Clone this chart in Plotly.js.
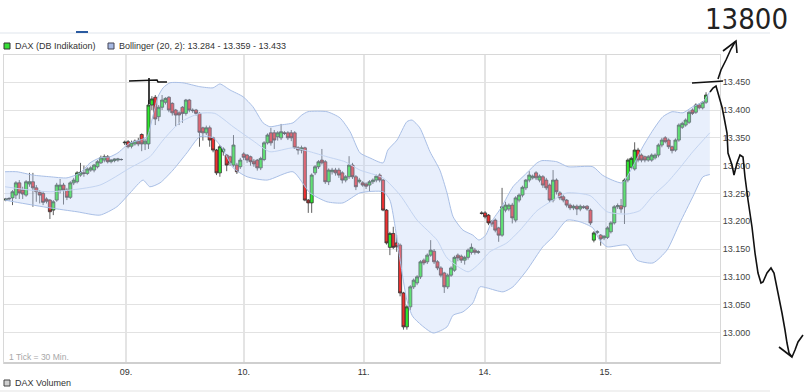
<!DOCTYPE html>
<html><head><meta charset="utf-8">
<script src="https://cdn.plot.ly/plotly-3.0.1.min.js"></script>
<style>html,body{margin:0;padding:0;background:#fff;}#chart{width:804px;height:392px;}</style>
</head><body><div id="chart"></div>
<script>
// ---- DAX 30-min candles, 08. - 15. ----
const open = [
 13238,13240,13242,13247,13269,13256,13247,13267,13271,13260,13252,13250,13240,13238,13220,13238,13256,13265,13256,13243,13269,13271,13283,13287,13286,13292,13292,13298,13305,13310,13316,13307,13309,13310,13311,
 13341,13343,13335,13339,13344,13356,13339,13339,13409,13423,13388,13405,13414,13423,13412,13400,13395,13405,13394,13418,13400,13400,13394,13368,13359,13368,13350,13328,13287,13325,13319,13316,13301,13301,13298,
 13321,13319,13316,13308,13310,13296,13311,13341,13359,13359,13352,13350,13359,13359,13359,13359,13332,13328,13332,13238,13233,13287,13298,13310,13307,13271,13289,13292,13292,13287,13274,13280,13301,13280,13271,
 13269,13267,13265,13271,13274,13283,13274,13220,13153,13178,13161,13157,13071,13010,13046,13082,13089,13100,13130,13127,13139,13146,13127,13116,13107,13082,13103,13112,13139,13137,13130,13135,13144,13148,13144,
 13215,13215,13211,13199,13202,13188,13175,13220,13222,13229,13202,13238,13247,13260,13274,13278,13287,13274,13280,13274,13265,13238,13274,13251,13244,13238,13229,13224,13227,13222,13226,13227,13220,
 13166,13180,13175,13170,13171,13181,13197,13226,13228,13226,13274,13297,13294,13328,13319,13316,13310,13310,13314,13319,13337,13350,13346,13334,13328,13346,13369,13373,13378,13400,13396,13409,13404,13414
];
const high = [
 13242,13243,13256,13272,13274,13262,13274,13287,13287,13265,13256,13254,13243,13240,13238,13269,13276,13269,13260,13272,13278,13290,13305,13300,13297,13299,13303,13310,13318,13320,13319,13312,13313,13314,13313,
 13345,13346,13345,13347,13350,13358,13348,13418,13425,13427,13409,13427,13423,13425,13414,13402,13398,13407,13420,13420,13403,13402,13396,13370,13372,13372,13352,13330,13337,13333,13321,13318,13355,13305,13314,
 13324,13321,13318,13312,13312,13316,13344,13358,13368,13364,13362,13375,13362,13362,13364,13362,13335,13336,13334,13240,13286,13301,13310,13330,13310,13295,13296,13296,13296,13290,13283,13317,13305,13283,13278,
 13272,13270,13274,13277,13284,13286,13276,13222,13181,13190,13175,13160,13073,13049,13085,13097,13103,13130,13133,13142,13166,13150,13130,13119,13109,13106,13119,13138,13142,13140,13138,13151,13160,13152,13148,
 13218,13218,13213,13202,13205,13190,13260,13235,13232,13233,13245,13250,13264,13276,13290,13284,13290,13284,13283,13278,13268,13292,13277,13254,13247,13240,13232,13230,13230,13230,13229,13229,13223,
 13182,13184,13177,13175,13191,13200,13229,13232,13240,13277,13313,13316,13342,13332,13322,13318,13319,13322,13322,13340,13350,13353,13349,13336,13349,13376,13379,13385,13399,13403,13412,13412,13416,13432
];
const low = [
 13236,13237,13229,13240,13240,13240,13244,13262,13226,13235,13232,13229,13232,13204,13211,13235,13250,13230,13238,13240,13265,13268,13280,13280,13283,13289,13288,13295,13303,13306,13304,13304,13306,13307,13309,
 13337,13331,13331,13336,13335,13326,13328,13330,13400,13373,13380,13400,13410,13396,13390,13370,13373,13377,13390,13396,13395,13390,13334,13345,13355,13334,13324,13283,13280,13318,13290,13300,13298,13285,13294,
 13310,13305,13300,13298,13291,13292,13308,13338,13336,13330,13345,13346,13355,13346,13344,13330,13320,13322,13236,13215,13215,13283,13294,13302,13267,13265,13284,13282,13278,13268,13270,13276,13276,13256,13268,
 13262,13258,13253,13267,13270,13270,13218,13158,13139,13150,13145,13065,13005,13005,13040,13078,13085,13096,13121,13123,13136,13123,13112,13099,13071,13078,13100,13109,13128,13125,13122,13131,13140,13140,13141,
 13212,13205,13193,13190,13180,13163,13172,13216,13218,13196,13198,13234,13243,13256,13270,13275,13274,13270,13260,13256,13234,13234,13248,13238,13234,13225,13220,13220,13211,13218,13222,13219,13193,
 13162,13177,13156,13166,13168,13178,13194,13222,13215,13195,13270,13294,13291,13306,13306,13306,13307,13307,13311,13315,13333,13340,13330,13322,13325,13343,13366,13370,13375,13391,13393,13401,13401,13411
];
const close = [
 13240,13241,13253,13269,13251,13249,13271,13271,13260,13253,13247,13234,13236,13217,13235,13265,13265,13256,13243,13269,13274,13287,13288,13286,13294,13296,13301,13307,13314,13316,13307,13310,13312,13312,13311,
 13342,13334,13341,13344,13339,13339,13344,13409,13420,13384,13405,13418,13421,13400,13395,13391,13391,13394,13418,13400,13399,13394,13360,13359,13368,13346,13328,13287,13334,13330,13301,13305,13337,13289,13310,
 13315,13310,13307,13303,13296,13313,13341,13355,13341,13346,13359,13361,13358,13350,13350,13332,13328,13332,13238,13233,13283,13298,13307,13305,13271,13292,13292,13287,13283,13274,13280,13301,13280,13262,13274,
 13265,13263,13271,13274,13281,13274,13220,13161,13178,13153,13154,13071,13010,13046,13082,13094,13100,13127,13125,13139,13148,13127,13116,13103,13082,13103,13116,13135,13134,13130,13135,13148,13153,13144,13145,
 13214,13208,13197,13195,13184,13175,13226,13229,13229,13206,13242,13247,13261,13274,13283,13281,13278,13281,13265,13260,13238,13274,13253,13242,13238,13229,13224,13227,13222,13227,13225,13222,13197,
 13179,13181,13168,13173,13188,13197,13226,13228,13222,13274,13310,13313,13328,13310,13310,13310,13316,13319,13319,13337,13346,13343,13334,13327,13346,13373,13376,13382,13396,13394,13409,13404,13414,13427
];

// ---- Bollinger (20, 2) at sample points (candle index, value) ----
const upperIdx = [-0.2,3.3,8.0,13.0,18.0,21.9,24.8,27.7,30.7,33.0,35.1,36.6,39.5,41.6,43.0,44.8,46.3,48.3,52.1,57.1,61.0,63.0,66.0,69.8,72.7,75.7,77.7,80.7,84.5,87.1,88.9,94.5,98.3,101.3,104.2,107.1,111.0,112.4,115.1,118.0,119.5,121.8,124.8,127.7,129.8,131.6,134.5,137.4,139.2,141.2,142.9,145.9,149.2,153.3,156.3,157.7,162.1,165.4,172.7,175.5,178.4,181.4,184.4,187.4,190.4,193.3,196.0,199.2,202.1,205.1,207.1];
const upperVal = [13289,13289,13283,13280,13278,13287,13305,13314,13316,13323,13334,13341,13346,13352,13382,13424,13440,13449,13449,13442,13440,13447,13436,13424,13406,13377,13370,13373,13377,13391,13397,13397,13386,13361,13323,13314,13305,13328,13346,13379,13382,13368,13325,13292,13251,13208,13184,13175,13166,13175,13199,13226,13262,13287,13305,13309,13307,13298,13298,13283,13274,13269,13298,13334,13364,13388,13397,13395,13406,13415,13433];
const midIdx = [-0.2,13.0,27.7,36.6,42.4,46.3,51.3,57.1,61.5,66.9,72.7,77.7,84.5,89.5,94.5,99.8,104.2,111.0,116.0,121.0,126.9,129.8,136.0,139.5,142.4,147.4,151.3,156.3,162.1,165.1,171.9,176.9,182.7,186.5,190.4,194.5,198.3,202.1,207.1];
const midVal = [13262,13253,13265,13296,13316,13346,13378,13394,13394,13370,13345,13325,13332,13325,13316,13307,13292,13278,13247,13202,13166,13134,13109,13125,13145,13161,13184,13219,13242,13251,13246,13217,13213,13219,13246,13269,13296,13325,13359];
const lowerIdx = [-0.2,4.2,13.0,21.0,27.7,32.7,36.6,40.4,42.4,45.4,49.2,53.3,57.1,61.0,63.6,66.9,71.0,76.9,84.5,89.5,94.5,99.2,104.2,111.0,113.0,116.0,118.0,119.8,125.7,129.8,131.6,134.5,137.4,139.5,141.6,146.3,149.2,153.3,158.0,161.0,165.1,168.9,172.7,174.7,176.9,182.7,185.7,190.4,194.5,198.3,202.1,205.1,207.1];
const lowerVal = [13238,13233,13224,13217,13211,13226,13251,13274,13262,13269,13292,13323,13352,13350,13332,13296,13280,13274,13289,13251,13235,13233,13251,13253,13238,13130,13058,13028,12999,13010,13031,13037,13053,13082,13080,13073,13082,13112,13154,13172,13202,13199,13188,13166,13154,13157,13130,13125,13148,13197,13244,13280,13284];

// ---- axis ticks ----
const dayTickIdx = [35.4, 70.0, 105.3, 140.9, 176.5];
const dayTickText = ['09.', '10.', '11.', '14.', '15.'];
const priceTicks = [13000,13050,13100,13150,13200,13250,13300,13350,13400,13450];

// ---- hand-drawn marks on the picture (pixel points) ----
const penT1 = [[129,81],[157,80],[158,82],[167,82]];
const penT2 = [[149,78],[149,104]];
const penTop = [[692,83],[708,82],[723,81]];
const penUp = [[718,79],[721,70],[726,60],[731,49],[735,42]];
const penUpHead = [[723,51],[736,41],[737,53]];
const penDown = [[710,92],[713,88],[716,86],[718,93],[722,107],[724,117],[727,133],[728,153],[732,165],[734,175],[737,163],[740,155],[743,157],[745,177],[748,200],[752,227],[755,253],[758,273],[761,283],[763,282],[767,273],[771,268],[774,273],[778,293],[782,313],[785,330],[787,343],[789,353],[792,357],[795,350],[798,342],[803,335]];
const penDownHead = [[779,347],[792,357]];

const M = {l:4, r:84, t:55, b:29};
const W = 804, H = 392;
const pw = W - M.l - M.r, ph = H - M.t - M.b;
const px = x => (x - M.l) / pw;
const py = y => (H - M.b - y) / ph;
const pathOf = pts => pts.map((p,i)=>(i?'L':'M')+px(p[0]).toFixed(5)+','+py(p[1]).toFixed(5)).join(' ');

const idx = close.map((_, i) => i);
const font = 'Liberation Sans, Arial, sans-serif';

const traces = [
  {x: lowerIdx, y: lowerVal, type:'scatter', mode:'lines', line:{color:'#a9bfe6', width:1, shape:'spline', smoothing:0.6}, hoverinfo:'skip', showlegend:false},
  {x: upperIdx, y: upperVal, type:'scatter', mode:'lines', line:{color:'#a9bfe6', width:1, shape:'spline', smoothing:0.6}, fill:'tonexty', fillcolor:'rgba(190,210,245,0.35)', hoverinfo:'skip', showlegend:false},
  {x: midIdx, y: midVal, type:'scatter', mode:'lines', line:{color:'#c3d4f1', width:1, shape:'spline', smoothing:0.6}, hoverinfo:'skip', showlegend:false},
  {x: idx, open: open, high: high, low: low, close: close, type:'candlestick',
   increasing:{line:{color:'#333', width:0.8}, fillcolor:'#2ee82e'},
   decreasing:{line:{color:'#333', width:0.8}, fillcolor:'#ee3030'},
   whiskerwidth:0, hoverinfo:'skip', showlegend:false}
];

const black = {color:'#111', width:1.6};
const shapes = [
  {type:'line', xref:'paper', yref:'paper', x0:px(0), x1:px(770), y0:py(33), y1:py(33), line:{color:'#dfe5ec', width:1}},
  {type:'line', xref:'paper', yref:'paper', x0:px(76), x1:px(88), y0:py(32), y1:py(32), line:{color:'#2a5aa0', width:2}},
  {type:'line', xref:'paper', yref:'paper', x0:0, x1:1, y0:0, y1:0, line:{color:'#cfcfcf', width:2}},
  {type:'line', xref:'paper', yref:'paper', x0:px(0), x1:px(770), y0:py(391), y1:py(391), line:{color:'#e3e3e3', width:1}},
  {type:'rect', xref:'paper', yref:'paper', x0:px(4), x1:px(10), y0:py(49), y1:py(43), fillcolor:'#36e036', line:{color:'#333', width:1}},
  {type:'rect', xref:'paper', yref:'paper', x0:px(108), x1:px(114), y0:py(49), y1:py(43), fillcolor:'#a7b9e2', line:{color:'#445', width:1}},
  {type:'rect', xref:'paper', yref:'paper', x0:px(4), x1:px(10), y0:py(386), y1:py(380), fillcolor:'#cfcfcf', line:{color:'#444', width:1}},
  {type:'path', xref:'paper', yref:'paper', path:pathOf(penT1), line:black},
  {type:'path', xref:'paper', yref:'paper', path:pathOf(penT2), line:black},
  {type:'path', xref:'paper', yref:'paper', path:pathOf(penTop), line:black},
  {type:'path', xref:'paper', yref:'paper', path:pathOf(penUp), line:black},
  {type:'path', xref:'paper', yref:'paper', path:pathOf(penUpHead), line:black},
  {type:'path', xref:'paper', yref:'paper', path:pathOf(penDown), line:black},
  {type:'path', xref:'paper', yref:'paper', path:pathOf(penDownHead), line:black}
];

const ann = (text, x, y, size, color, anchor) => ({text, xref:'paper', yref:'paper', x:px(x), y:py(y), xanchor:anchor||'left', yanchor:'middle', showarrow:false, font:{family:font, size, color}});
const annotations = [
  ann('DAX (DB Indikation)', 13, 46, 9, '#333'),
  ann('Bollinger (20, 2): 13.284 - 13.359 - 13.433', 117, 46, 9, '#333'),
  ann('1 Tick = 30 Min.', 7, 357, 8.5, '#a8a8a8'),
  ann('DAX Volumen', 13, 383, 9, '#333'),
  {text:'13800', xref:'paper', yref:'paper', x:px(747), y:py(19), xanchor:'center', yanchor:'middle', showarrow:false,
   font:{family:'Liberation Sans Narrow, DejaVu Sans Condensed, Liberation Sans, sans-serif', size:29, color:'#222'}}
];

const layout = {
  width: W, height: H, margin: M,
  paper_bgcolor:'#fff', plot_bgcolor:'#fff',
  separators: ',.',
  showlegend:false,
  boxgap: 0.1,
  boxgroupgap: 0,
  font:{family:font, size:9, color:'#333'},
  xaxis:{type:'linear', range:[-0.5, 210.1], tickmode:'array', tickvals:dayTickIdx, ticktext:dayTickText,
         showgrid:true, gridcolor:'#e4e4e4', gridwidth:2, zeroline:false, ticks:'', showline:true, mirror:true, linecolor:'#d8d8d8', linewidth:1,
         rangeslider:{visible:false}, fixedrange:true, tickfont:{family:font, size:9, color:'#333'}},
  yaxis:{side:'right', range:[12945, 13499], tickmode:'array', tickvals:priceTicks, tickformat:',d',
         showgrid:true, gridcolor:'#e2e2e2', gridwidth:1, zeroline:false, ticks:'', showline:true, mirror:true, linecolor:'#d8d8d8', linewidth:1,
         fixedrange:true, tickfont:{family:font, size:9, color:'#444'}},
  shapes, annotations
};

Plotly.newPlot('chart', traces, layout, {staticPlot:true, displayModeBar:false});
</script>
</body></html>
